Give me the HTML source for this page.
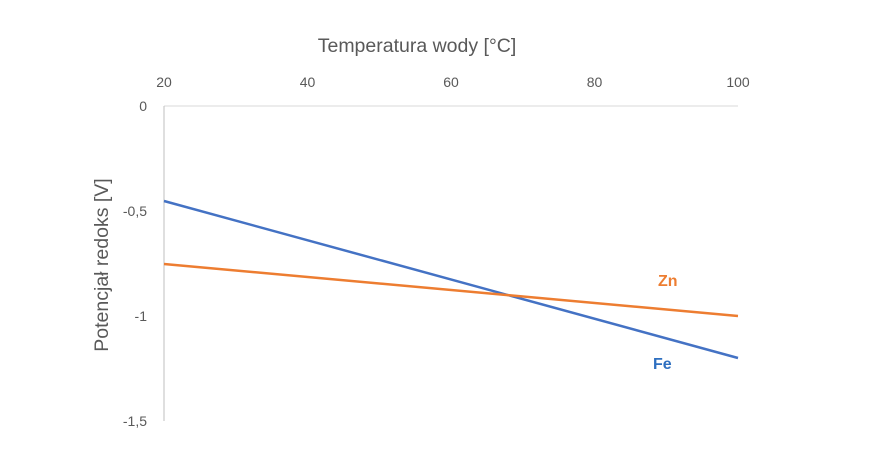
<!DOCTYPE html>
<html><head><meta charset="utf-8"><style>
html,body{margin:0;padding:0;background:#fff;}
</style></head><body>
<svg width="872" height="465" xmlns="http://www.w3.org/2000/svg" font-family="'Liberation Sans', sans-serif">
<rect width="872" height="465" fill="#fff"/>
<text x="417" y="52" font-size="19.5" fill="#595959" text-anchor="middle">Temperatura wody [°C]</text>
<g font-size="14" fill="#595959" text-anchor="middle">
<text x="164" y="87">20</text>
<text x="307.5" y="87">40</text>
<text x="451" y="87">60</text>
<text x="594.5" y="87">80</text>
<text x="738" y="87">100</text>
</g>
<g font-size="14" fill="#595959" text-anchor="end">
<text x="147" y="111">0</text>
<text x="147" y="216">-0,5</text>
<text x="147" y="321">-1</text>
<text x="147" y="426">-1,5</text>
</g>
<text transform="translate(108,265) rotate(-90)" font-size="19.5" fill="#595959" text-anchor="middle">Potencjał redoks [V]</text>
<line x1="164" y1="106" x2="738" y2="106" stroke="#d9d9d9" stroke-width="1"/>
<line x1="164" y1="106" x2="164" y2="421" stroke="#bfbfbf" stroke-width="1"/>
<line x1="164" y1="201" x2="738" y2="358" stroke="#4472C4" stroke-width="2.5"/>
<line x1="164" y1="264" x2="738" y2="316" stroke="#ED7D31" stroke-width="2.5"/>
<text x="658" y="286" font-size="16" font-weight="bold" fill="#ED7D31">Zn</text>
<text x="653" y="369" font-size="16" font-weight="bold" fill="#2E6FC0">Fe</text>
</svg>
</body></html>
